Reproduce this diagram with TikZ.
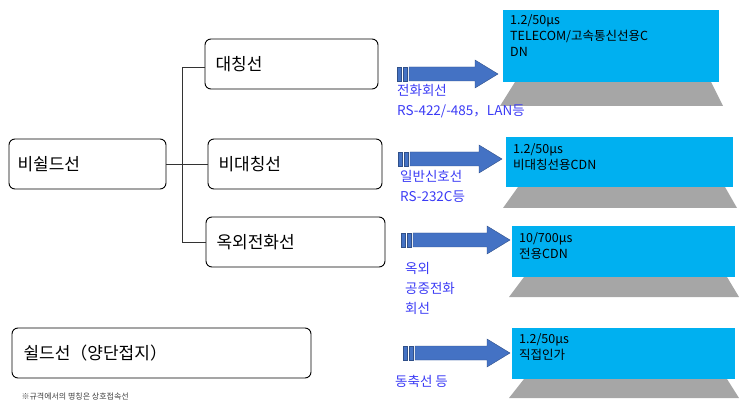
\documentclass[tikz,border=0pt]{standalone}
\usepackage{fontspec}
\setmainfont{Noto Sans CJK KR}
\begin{document}
\begin{tikzpicture}[x=1pt,y=-1pt,
  box/.style={draw,line width=0.9pt,rounded corners=6pt,anchor=north west,inner sep=0pt,minimum height=50pt,text width=#1,font=\fontsize{17}{20}\selectfont,align=left},
  cdn/.style={fill=cyan!80!blue!90!white,fill=cdncol,anchor=north west,inner sep=0pt,minimum height=#1,align=left},
  lbl/.style={text=lblcol,font=\fontsize{13.5}{20}\selectfont,anchor=north west,inner sep=0pt,align=left},
  ctext/.style={font=\fontsize{12.5}{16}\selectfont,anchor=north west,inner sep=0pt,align=left},
  arr/.style={fill=arrcol,draw=arrcol!70!black,line width=0.4pt}]
\definecolor{cdncol}{HTML}{00B0F0}
\definecolor{lblcol}{HTML}{3B3BF5}
\definecolor{arrcol}{HTML}{4472C4}
\useasboundingbox (0,0) rectangle (743,411);
% left boxes
\draw[rounded corners=6pt,line width=0.9pt] (9,139) rectangle (166,189);
\node[anchor=west,font=\fontsize{17}{20}\selectfont] (nb) at (14,164) {비쉴드선};
\coordinate (nbR) at (166,164);
\draw[rounded corners=6pt,line width=0.9pt] (205,39) rectangle (378,89);
\node[anchor=west,font=\fontsize{17}{20}\selectfont] (a) at (212,64) {대칭선};
\coordinate (aL) at (205,67);
\draw[rounded corners=6pt,line width=0.9pt] (208,139) rectangle (382,189);
\node[anchor=west,font=\fontsize{17}{20}\selectfont] (b) at (215,164) {비대칭선};
\coordinate (bL) at (208,164);
\draw[rounded corners=6pt,line width=0.9pt] (206,217) rectangle (385,267);
\node[anchor=west,font=\fontsize{17}{20}\selectfont] (c) at (213,242) {옥외전화선};
\coordinate (cL) at (206,242);
\draw[rounded corners=6pt,line width=0.9pt] (12,328) rectangle (311,378);
\node[anchor=west,font=\fontsize{17}{20}\selectfont] (s) at (20,353) {쉴드선（양단접지）};
\node[anchor=west,font=\fontsize{8}{10}\selectfont,text=black!75] (note) at (18,397) {※규격에서의 명칭은 상호접속선};
% connectors
\draw[line width=0.7pt,black!80] (nbR) -- (bL);
\draw[line width=0.7pt,black!80] (aL) -- (182,67) -- (182,242) -- (cL);
% arrows
\foreach \x/\y/\t in {397/74/498, 398/159/502, 401/240/510, 403/353/510}{
  \fill[arr] (\x,\y-7) rectangle ++(4,14);
  \fill[arr] (\x+6,\y-7) rectangle ++(4,14);
  \draw[arr] (\x+12,\y-7) -- (\t-23,\y-7) -- (\t-23,\y-14) -- (\t,\y) -- (\t-23,\y+14) -- (\t-23,\y+7) -- (\x+12,\y+7) -- cycle;
}
% shadows
\foreach \l/\r/\t/\b in {503/719/82/106, 506/733/187/208, 512/735/277/297, 512/735/379/398}{
  \fill[black!35] (\l+12,\t) -- (\r-8,\t) -- (\r+4,\b) -- (\l-3,\b) -- cycle;
}
% cdn boxes
\fill[cdncol] (503,10) rectangle (719,82);
\node[ctext] (c1) at (510,14) {1.2/50μs\\TELECOM/고속통신선용C\\DN};
\fill[cdncol] (506,137) rectangle (733,187);
\node[ctext] (c2) at (513,143) {1.2/50μs\\비대칭선용CDN};
\fill[cdncol] (512,226) rectangle (735,277);
\node[ctext] (c3) at (519,232) {10/700μs\\전용CDN};
\fill[cdncol] (512,328) rectangle (735,379);
\node[ctext] (c4) at (519,333) {1.2/50μs\\직접인가};
% labels
\node[lbl] (l1) at (397,84) {전화회선\\RS-422/-485，LAN등};
\node[lbl] (l2) at (400,170) {일반신호선\\RS-232C등};
\node[lbl] (l3) at (405,262) {옥외\\공중전화\\회선};
\node[lbl] (l4) at (395,375) {동축선 등};
\end{tikzpicture}
\end{document}
